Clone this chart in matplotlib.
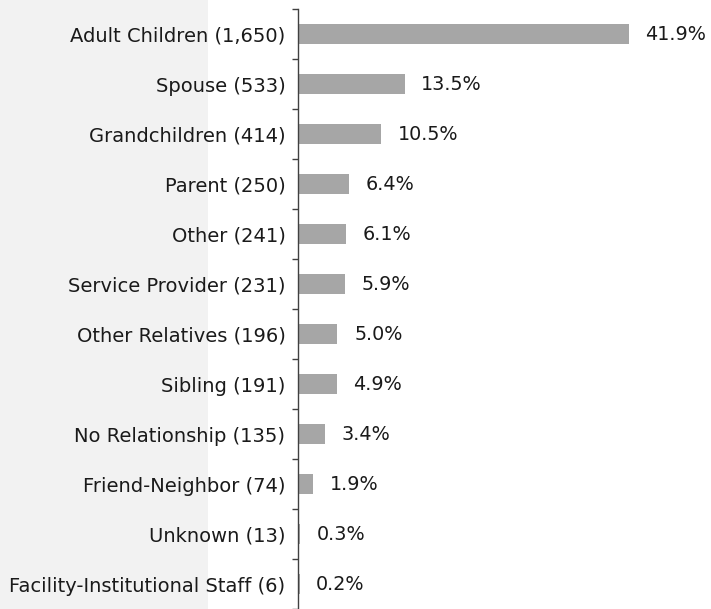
import matplotlib.pyplot as plt
from matplotlib.patches import Rectangle
from matplotlib.ticker import FixedLocator

categories = ["Adult Children", "Spouse", "Grandchildren", "Parent", "Other",
              "Service Provider", "Other Relatives", "Sibling", "No Relationship",
              "Friend-Neighbor", "Unknown", "Facility-Institutional Staff"]
counts = [1650, 533, 414, 250, 241, 231, 196, 191, 135, 74, 13, 6]
percents = [41.9, 13.5, 10.5, 6.4, 6.1, 5.9, 5.0, 4.9, 3.4, 1.9, 0.3, 0.2]

labels = [f"{c} ({n:,})" for c, n in zip(categories, counts)]
y = list(range(len(categories)))

fig = plt.figure(figsize=(7.11, 6.09), dpi=100)
# light gray panel behind the category labels
fig.patches.append(Rectangle((0, 0), 208 / 711, 1, transform=fig.transFigure,
                             facecolor="#f2f2f2", edgecolor="none", zorder=-10))

ax = fig.add_axes([298 / 711, 0.0, 1 - 298 / 711, (609 - 9) / 609])
ax.patch.set_alpha(0)
ax.barh(y, percents, height=0.4, color="#a6a6a6")

for yi, p in zip(y, percents):
    ax.annotate(f"{p:.1f}%", (p, yi), xytext=(12, 0), textcoords="offset points",
                ha="left", va="center", fontsize=13.8, color="#1a1a1a")

ax.set_xlim(0, 52.3)
ax.set_ylim(len(categories) - 0.5, -0.5)
ax.set_yticks(y)
ax.set_yticklabels(labels, fontsize=14, color="#1a1a1a")
ax.tick_params(axis="y", which="major", length=0, pad=9)
ax.yaxis.set_minor_locator(FixedLocator([i - 0.5 for i in range(len(categories) + 1)]))
ax.tick_params(axis="y", which="minor", length=4.5, width=1, color="#404040")
ax.set_xticks([])
for s in ["top", "right", "bottom"]:
    ax.spines[s].set_visible(False)
ax.spines["left"].set_color("#404040")
ax.spines["left"].set_linewidth(1)

fig.savefig("out.png", dpi=100)
